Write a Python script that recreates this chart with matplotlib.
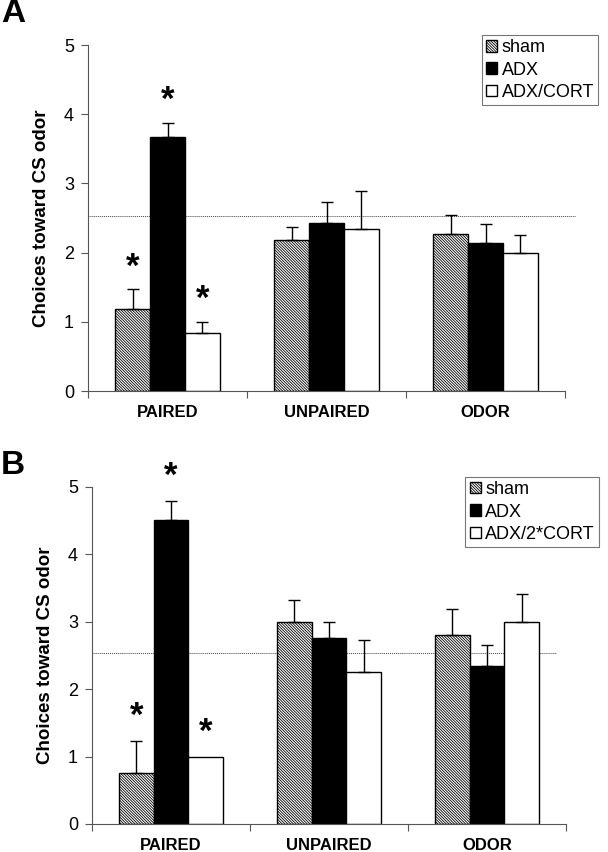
import matplotlib
matplotlib.use("Agg")
import matplotlib.pyplot as plt
import numpy as np

plt.rcParams['font.family'] = ['Liberation Sans', 'DejaVu Sans']
plt.rcParams['hatch.linewidth'] = 0.6

categories = ["PAIRED", "UNPAIRED", "ODOR"]
groups = ["sham", "ADX", "CORT"]

a_labels = ["sham", "ADX", "ADX/CORT"]
a_means = {"sham": [1.18, 2.18, 2.27], "ADX": [3.67, 2.43, 2.14], "CORT": [0.84, 2.34, 1.99]}
a_errs = {"sham": [0.29, 0.19, 0.27], "ADX": [0.21, 0.30, 0.27], "CORT": [0.16, 0.55, 0.27]}
a_chance = 2.53
a_stars = {"sham": [True, False, False], "ADX": [True, False, False], "CORT": [True, False, False]}

b_labels = ["sham", "ADX", "ADX/2*CORT"]
b_means = {"sham": [0.75, 3.0, 2.8], "ADX": [4.5, 2.75, 2.34], "CORT": [1.0, 2.25, 3.0]}
b_errs = {"sham": [0.48, 0.32, 0.38], "ADX": [0.29, 0.25, 0.32], "CORT": [0.0, 0.48, 0.41]}
b_chance = 2.54
b_stars = {"sham": [True, False, False], "ADX": [True, False, False], "CORT": [True, False, False]}

styles = {
    "sham": dict(facecolor="white", edgecolor="black", hatch="\\" * 12),
    "ADX": dict(facecolor="black", edgecolor="black"),
    "CORT": dict(facecolor="white", edgecolor="black"),
}

fig = plt.figure(figsize=(6.08, 8.52), dpi=100)
axA = fig.add_axes([88/608, 1-391/852, 477/608, 346/852])
axB = fig.add_axes([92/608, 1-824/852, 474/608, 337.3/852])


def draw(ax, means, errs, stars, labels, chance, line_xmax, star_off):
    width = 0.22
    x = np.arange(len(categories)) + 0.5
    handles = []
    for i, g in enumerate(groups):
        xs = x + (i - 1) * width
        bars = ax.bar(xs, means[g], width, linewidth=1.0, zorder=2, **styles[g])
        handles.append(bars)
        for xi, m, e, s in zip(xs, means[g], errs[g], stars[g]):
            if e > 0:
                ax.errorbar([xi], [m], yerr=[[0], [e]], fmt='none', ecolor='black',
                            elinewidth=1.0, capsize=4, capthick=1.0, zorder=3)
            if s:
                ax.text(xi, m + e + star_off, "*", ha='center', va='center',
                        fontsize=25, fontweight='bold')
    ax.axhline(chance, xmin=0, xmax=line_xmax, color='#444444', linestyle=(0, (1, 1)),
               linewidth=0.7, clip_on=False, zorder=1)
    ax.set_xlim(0, 3)
    ax.set_ylim(0, 5)
    ax.set_yticks([0, 1, 2, 3, 4, 5])
    ax.set_xticks([0, 1, 2, 3])
    ax.set_xticklabels([])
    ax.set_xticks(x, minor=True)
    ax.set_xticklabels(categories, minor=True, fontsize=12, fontweight='bold')
    ax.tick_params(axis='x', which='minor', length=0, pad=10)
    ax.tick_params(axis='x', which='major', length=5, direction='out', color='#555555')
    ax.tick_params(axis='y', length=5, direction='out', labelsize=13, color='#555555', pad=5)
    for sp in ['top', 'right']:
        ax.spines[sp].set_visible(False)
    for sp in ['left', 'bottom']:
        ax.spines[sp].set_color('#555555')
        ax.spines[sp].set_linewidth(0.8)
    ax.set_ylabel("Choices toward CS odor", fontsize=13.5, fontweight='bold', labelpad=10)
    leg = ax.legend(handles, labels, loc='upper right', bbox_to_anchor=(1.07, 1.03),
                    frameon=True, fancybox=False, fontsize=13, handlelength=0.6,
                    handleheight=0.6, handletextpad=0.25, borderpad=0.25,
                    labelspacing=0.3, borderaxespad=0)
    leg.get_frame().set_edgecolor('#555555')
    leg.get_frame().set_linewidth(0.8)
    return ax


draw(axA, a_means, a_errs, a_stars, a_labels, a_chance, 1.021, 0.32)
draw(axB, b_means, b_errs, b_stars, b_labels, b_chance, 0.979, 0.36)

fig.text(0.002, 1-14/852, "A", fontsize=24, fontweight='bold', va='center', ha='left')
fig.text(0.002, 1-466/852, "B", fontsize=24, fontweight='bold', va='center', ha='left')

fig.savefig("out.png", dpi=100)
